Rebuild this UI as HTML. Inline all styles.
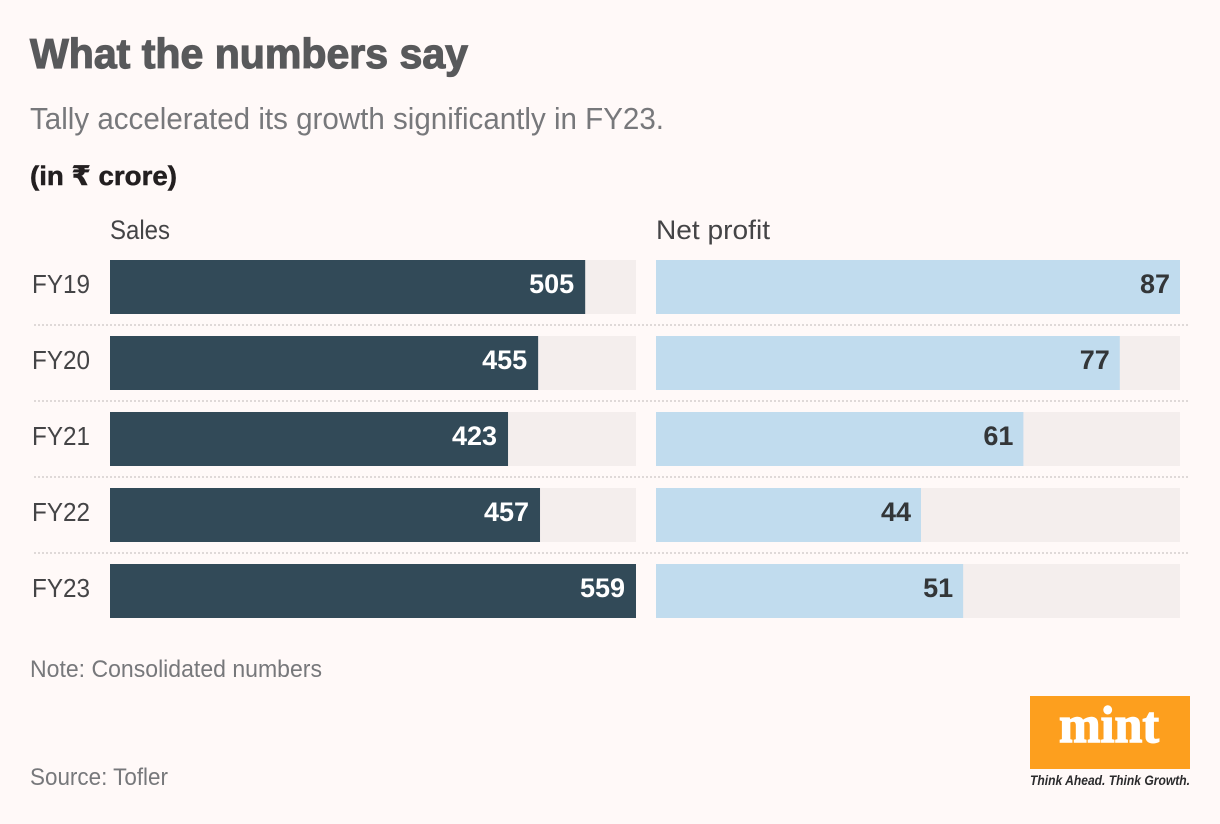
<!DOCTYPE html>
<html lang="en">
<head>
<meta charset="utf-8">
<title>What the numbers say</title>
<style>
html,body{margin:0;padding:0;background:#fff9f8;}
svg{display:block;font-family:"Liberation Sans","DejaVu Sans",sans-serif;}
</style>
</head>
<body>
<svg id="chart" xmlns="http://www.w3.org/2000/svg" width="1220" height="824" viewBox="0 0 1220 824">
  <rect x="0" y="0" width="1220" height="824" fill="#fff9f8"/>
  <text x="30" y="68" font-size="42" font-weight="700" fill="#58595b" stroke="#58595b" stroke-width="1.2" textLength="438" lengthAdjust="spacingAndGlyphs">What the numbers say</text>
  <text x="30" y="129" font-size="31" fill="#77787b" textLength="634" lengthAdjust="spacingAndGlyphs">Tally accelerated its growth significantly in FY23.</text>
  <text x="30" y="185" font-size="27" font-weight="700" fill="#231f20" stroke="#231f20" stroke-width="0.5" textLength="147" lengthAdjust="spacingAndGlyphs">(in ₹ crore)</text>
  <text x="110" y="239" font-size="27" fill="#444446" textLength="60" lengthAdjust="spacingAndGlyphs">Sales</text>
  <text x="656" y="239" font-size="27" fill="#444446" textLength="114" lengthAdjust="spacingAndGlyphs">Net profit</text>
  <g id="rows"></g>
  <text x="30" y="677" font-size="24" fill="#77787b" textLength="292" lengthAdjust="spacingAndGlyphs">Note: Consolidated numbers</text>
  <text x="30" y="785" font-size="24" fill="#77787b" textLength="138" lengthAdjust="spacingAndGlyphs">Source: Tofler</text>
  <g>
    <rect x="1030" y="696" width="160" height="73" fill="#fd9f1e"/>
    <text x="1059" y="742" font-family="'Liberation Serif',serif" font-size="52" font-weight="700" fill="#ffffff" stroke="#ffffff" stroke-width="1.4" textLength="100" lengthAdjust="spacingAndGlyphs">mint</text>
    <text x="1030" y="785" font-size="13.5" font-style="italic" font-weight="700" fill="#2b2b2d" textLength="160" lengthAdjust="spacingAndGlyphs">Think Ahead. Think Growth.</text>
  </g>
</svg>
<script>
const years = ["FY19", "FY20", "FY21", "FY22", "FY23"];
const salesValues = [505, 455, 423, 457, 559];
const profitValues = [87, 77, 61, 44, 51];

const SVG_NS = "http://www.w3.org/2000/svg";
const rowsGroup = document.getElementById("rows");
const rowTop = 260, rowStep = 76, barHeight = 54;
const salesLeft = 110, salesWidth = 526;
const profitLeft = 656, profitWidth = 524;
const salesMax = Math.max.apply(null, salesValues);
const profitMax = Math.max.apply(null, profitValues);

function salesScale(v) { return v / salesMax * salesWidth; }
function profitScale(v) { return v / profitMax * profitWidth; }
function rowY(i) { return rowTop + i * rowStep; }

function make(tag, attrs, text) {
  const el = document.createElementNS(SVG_NS, tag);
  Object.keys(attrs).forEach(function (k) { el.setAttribute(k, attrs[k]); });
  if (text !== undefined) el.textContent = text;
  rowsGroup.appendChild(el);
  return el;
}

years.forEach(function (year, i) {
  const y = rowY(i);

  const label = make("text", {x: 32, y: y + 33, "font-size": 26, fill: "#444446", textLength: 58, lengthAdjust: "spacingAndGlyphs"}, year);
  
  

  const salesTrack = make("rect", {x: salesLeft, y: y, width: salesWidth, height: barHeight, fill: "#f4eeed"});
  
  

  const salesBar = make("rect", {x: salesLeft, y: y, width: salesScale(salesValues[i]), height: barHeight, fill: "#324a58"});
  
  

  const salesValue = make("text", {x: salesLeft + salesScale(salesValues[i]) - 11, y: y + 33, "text-anchor": "end", "font-size": 27, "font-weight": 700, fill: "#ffffff"}, salesValues[i]);
  
  

  const profitTrack = make("rect", {x: profitLeft, y: y, width: profitWidth, height: barHeight, fill: "#f4eeed"});
  
  

  const profitBar = make("rect", {x: profitLeft, y: y, width: profitScale(profitValues[i]), height: barHeight, fill: "#c1dcee"});
  
  

  const profitValue = make("text", {x: profitLeft + profitScale(profitValues[i]) - 10, y: y + 33, "text-anchor": "end", "font-size": 27, "font-weight": 700, fill: "#333638"}, profitValues[i]);
  
  

  if (i < years.length - 1) {
    const divider = make("line", {x1: 34, x2: 1188, y1: y + 65, y2: y + 65, stroke: "#dfd9d8", "stroke-width": 2, "stroke-dasharray": "2 2"});
    
    
  }
});
</script>
</body>
</html>
